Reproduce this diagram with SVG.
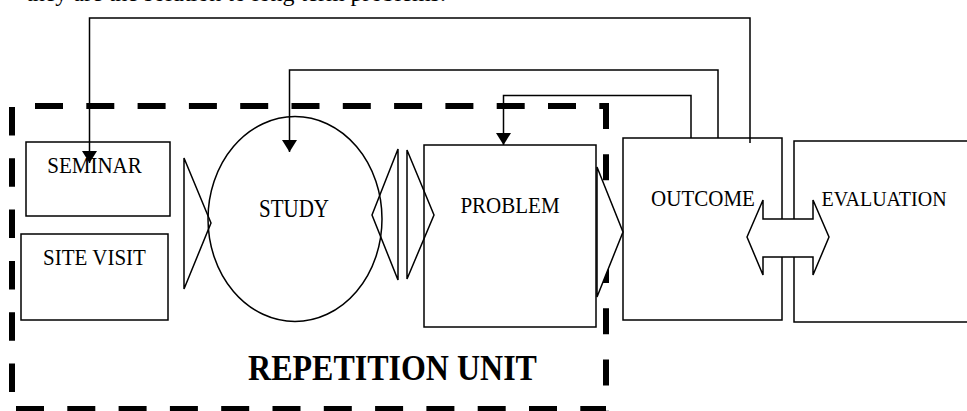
<svg xmlns="http://www.w3.org/2000/svg" width="967" height="411" viewBox="0 0 967 411">
  <style>
    .box { fill: #fff; stroke: #000; stroke-width: 1.5; }
    .open { fill: none; stroke: #000; stroke-width: 1.5; stroke-linejoin: miter; }
    .wfill { fill: #fff; stroke: #000; stroke-width: 1.5; stroke-linejoin: miter; }
    .dash { stroke: #000; stroke-width: 6; fill: none; }
    .lbl { font-family: "Liberation Serif", "Times New Roman", serif; font-size: 21px; fill: #000; text-anchor: middle; }
    .title { font-family: "Liberation Serif", "Times New Roman", serif; font-size: 32px; font-weight: bold; fill: #000; text-anchor: middle; }
    .body { font-family: "Liberation Serif", "Times New Roman", serif; font-size: 24px; fill: #000; }
    .conn { fill: none; stroke: #000; stroke-width: 1.5; }
  </style>
  <defs>
    <marker id="arr" markerUnits="userSpaceOnUse" markerWidth="15" markerHeight="15" refX="12" refY="7.5" orient="auto">
      <path d="M0,0 L12,7.5 L0,15 z" fill="#000"/>
    </marker>
  </defs>
  <rect width="967" height="411" fill="#fff"/>

  <text class="body" x="26" y="0.5">they are the solution to long term problems.</text>

  <g id="repetition-unit">
    <line class="dash" x1="35" y1="106" x2="600" y2="106" stroke-dasharray="28 23.3"/>
    <line class="dash" x1="600" y1="106" x2="609" y2="106"/>
    <line class="dash" x1="12" y1="107" x2="12" y2="406" stroke-dasharray="28.5 22.8"/>
    <line class="dash" x1="606" y1="103" x2="606" y2="411" stroke-dasharray="26 25.3"/>
    <line class="dash" x1="16" y1="409" x2="606" y2="409" stroke-dasharray="28 23.3"/>
    <text class="title" transform="translate(392.5,380) scale(1,1.12)">REPETITION UNIT</text>
  </g>

  <g id="seminar">
    <rect class="box" x="26" y="142" width="144" height="74"/>
    <text class="lbl" transform="translate(94.5,173) scale(1,1.08)">SEMINAR</text>
  </g>

  <g id="site-visit">
    <rect class="box" x="21" y="234" width="147" height="86"/>
    <text class="lbl" transform="translate(94.5,265) scale(1,1.08)">SITE VISIT</text>
  </g>

  <g id="study">
    <ellipse class="box" cx="295" cy="219" rx="87" ry="102.5"/>
    <text class="lbl" transform="translate(294,216.5) scale(1,1.15)">STUDY</text>
  </g>

  <g id="problem">
    <rect class="box" x="424" y="145" width="172" height="182"/>
    <text class="lbl" transform="translate(510,213) scale(1,1.08)">PROBLEM</text>
  </g>

  <g id="outcome">
    <rect class="box" x="623" y="138" width="159" height="182"/>
    <text class="lbl" transform="translate(703,206) scale(1,1.08)">OUTCOME</text>
  </g>

  <g id="evaluation">
    <rect class="box" x="794" y="141" width="180" height="181"/>
    <text class="lbl" style="font-size:20px" transform="translate(884,206) scale(1,1.1)">EVALUATION</text>
  </g>

  <g id="connectors">
    <polygon class="open" points="184,158 211,223 184,289"/>
    <polygon class="open" points="398,149 372,215 398,280"/>
    <polygon class="open" points="407,150 434,215 407,279"/>
    <polygon class="wfill" points="597,167 623,232 597,297"/>
    <polygon class="wfill" points="747,237 763,200 763,219 813,219 813,200 829,237 813,275 813,257 763,257 763,275"/>
    <path class="conn" d="M750,143 V18 H89.5 V163" marker-end="url(#arr)"/>
    <path class="conn" d="M718,138 V70 H289.5 V152" marker-end="url(#arr)"/>
    <path class="conn" d="M691,138 V95.5 H503.5 V145" marker-end="url(#arr)"/>
  </g>
</svg>
